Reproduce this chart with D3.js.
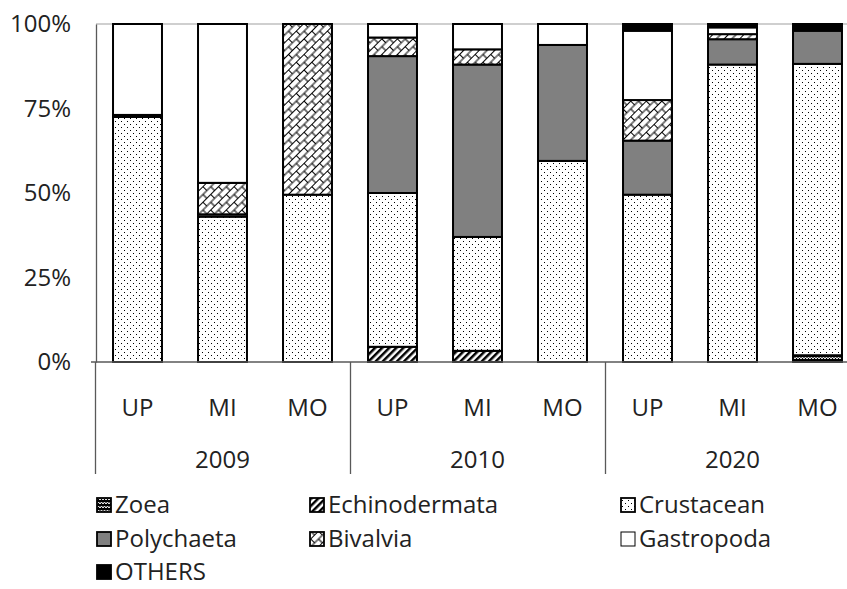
<!DOCTYPE html>
<html>
<head>
<meta charset="utf-8">
<script src="https://cdn.jsdelivr.net/npm/d3@7"></script>
<style>
  body { margin: 0; background: #fff; }
  text { font-family: 'Open Sans', sans-serif; fill: #222; }
</style>
</head>
<body>
<script>
const width = 847;
const height = 589;

// categories
const years = ['2009', '2010', '2020'];
const sites = ['UP', 'MI', 'MO'];

// series values (% of total), one value per year/site bar
const zoea = [0, 0, 0, 0, 0, 0, 0, 0, 2];
const echinodermata = [0, 0, 0, 4.5, 3.3, 0, 0, 0, 0];
const crustacean = [72.5, 43, 49.5, 45.5, 33.7, 59.5, 49.5, 88, 86.2];
const polychaeta = [0.6, 0.7, 0, 40.5, 51, 34.3, 16, 7.5, 9.8];
const bivalvia = [0, 9.3, 50.5, 5.5, 4.5, 0, 12, 1.5, 0];
const gastropoda = [26.9, 47, 0, 4, 7.5, 6.2, 20.5, 2, 0];
const others = [0, 0, 0, 0, 0, 0, 2, 1, 2];

const yTicks = [0, 0.25, 0.5, 0.75, 1];

const seriesNames = ['Zoea', 'Echinodermata', 'Crustacean', 'Polychaeta', 'Bivalvia', 'Gastropoda', 'OTHERS'];
const seriesVals = [zoea, echinodermata, crustacean, polychaeta, bivalvia, gastropoda, others];
const fills = ['url(#p-zoea)', 'url(#p-echi)', 'url(#p-crus)', '#808080', 'url(#p-biv)', '#fff', '#000'];

const fontSize = '24px';

// one row per bar for d3.stack
const bars = [];
years.forEach((yr, i) => {
  sites.forEach((s, j) => {
    const row = { key: `${yr}-${s}`, year: yr, site: s };
    seriesNames.forEach((n, k) => { row[n] = seriesVals[k][i * 3 + j] / 100; });
    bars.push(row);
  });
});

const stacked = d3.stack().keys(seriesNames)(bars);

const svg = d3
  .select('body')
  .append('svg')
  .attr('width', width)
  .attr('height', height);

// ---- fill patterns
const defs = svg.append('defs');

const crus = defs.append('pattern')
  .attr('id', 'p-crus').attr('patternUnits', 'userSpaceOnUse')
  .attr('width', 6).attr('height', 6);
crus.append('rect').attr('width', 6).attr('height', 6).attr('fill', '#fff');
crus.append('rect').attr('x', 1).attr('y', 1).attr('width', 1).attr('height', 1).attr('fill', '#000');
crus.append('rect').attr('x', 4).attr('y', 4).attr('width', 1).attr('height', 1).attr('fill', '#000');

const echi = defs.append('pattern')
  .attr('id', 'p-echi').attr('patternUnits', 'userSpaceOnUse')
  .attr('width', 5).attr('height', 5)
  .attr('patternTransform', 'rotate(45)');
echi.append('rect').attr('width', 5).attr('height', 5).attr('fill', '#fff');
echi.append('rect').attr('width', 2.5).attr('height', 5).attr('fill', '#000');

const zo = defs.append('pattern')
  .attr('id', 'p-zoea').attr('patternUnits', 'userSpaceOnUse')
  .attr('width', 6).attr('height', 4);
zo.append('rect').attr('width', 6).attr('height', 4).attr('fill', '#000');
zo.append('path').attr('d', 'M0,3 L1.5,1 L3,3 L4.5,1 L6,3').attr('stroke', '#fff').attr('stroke-width', 1).attr('fill', 'none');

// shingle: brick tile rotated
const biv = defs.append('pattern')
  .attr('id', 'p-biv').attr('patternUnits', 'userSpaceOnUse')
  .attr('width', 11).attr('height', 11)
  .attr('patternTransform', 'rotate(-45)');
biv.append('rect').attr('width', 11).attr('height', 11).attr('fill', '#fff');
biv.append('path')
  .attr('d', 'M0,0.5 H11 M0,6 H11 M0.5,0 V6 M6,6 V11')
  .attr('stroke', '#000').attr('stroke-width', 1.1).attr('fill', 'none');

// ---- scales
const x = d3.scaleBand()
  .domain(bars.map(d => d.key))
  .range([95, 860])
  .paddingInner(0.424)
  .paddingOuter(0.212);

const y = d3.scaleLinear().domain([0, 1]).range([362, 24]);

// top gridline (100%)
svg.append('line')
  .attr('x1', 96).attr('x2', width)
  .attr('y1', y(1)).attr('y2', y(1))
  .attr('stroke', '#bfbfbf').attr('stroke-width', 1.3);

// ---- bars
svg.append('g')
  .selectAll('g')
  .data(stacked)
  .join('g')
  .attr('fill', (d, i) => fills[i])
  .selectAll('rect')
  .data(d => d.filter(p => p[1] - p[0] > 0))
  .join('rect')
  .attr('x', d => x(d.data.key))
  .attr('width', x.bandwidth())
  .attr('y', d => y(d[1]))
  .attr('height', d => y(d[0]) - y(d[1]))
  .attr('stroke', '#000')
  .attr('stroke-width', 2);

// ---- y axis
const yAxis = svg.append('g')
  .attr('transform', 'translate(96,0)')
  .call(d3.axisLeft(y).tickValues(yTicks).tickFormat(d3.format('.0%')).tickSize(0).tickPadding(25));
yAxis.select('.domain').attr('stroke', '#595959').attr('stroke-width', 1.3);
yAxis.selectAll('text').style('font-size', fontSize).attr('fill', '#222');

// ---- category axis (two levels)
svg.append('line')
  .attr('x1', 91).attr('x2', width)
  .attr('y1', y(0)).attr('y2', y(0))
  .attr('stroke', '#595959').attr('stroke-width', 1.3);

const groupW = x.step() * 3;
const groupEdges = d3.range(years.length + 1).map(i => 95 + i * groupW);

svg.append('g')
  .selectAll('line')
  .data(groupEdges)
  .join('line')
  .attr('x1', d => d + 0.5).attr('x2', d => d + 0.5)
  .attr('y1', y(0)).attr('y2', 474)
  .attr('stroke', '#595959').attr('stroke-width', 1.3);

svg.append('g')
  .selectAll('text')
  .data(bars)
  .join('text')
  .attr('x', d => x(d.key) + x.bandwidth() / 2)
  .attr('y', 408)
  .attr('dy', '0.35em')
  .attr('text-anchor', 'middle')
  .style('font-size', fontSize)
  .text(d => d.site);

svg.append('g')
  .selectAll('text')
  .data(years)
  .join('text')
  .attr('x', (d, i) => 95 + (i + 0.5) * groupW)
  .attr('y', 460)
  .attr('dy', '0.35em')
  .attr('text-anchor', 'middle')
  .style('font-size', fontSize)
  .text(d => d);

// ---- legend
const legCols = [97, 310, 621];
const legRows = [505, 539, 572];

const leg = svg.append('g')
  .selectAll('g')
  .data(seriesNames)
  .join('g')
  .attr('transform', (d, i) => `translate(${legCols[i % 3]},${legRows[Math.floor(i / 3)]})`);

leg.append('rect')
  .attr('x', 0).attr('y', -7)
  .attr('width', 14).attr('height', 14)
  .attr('fill', (d, i) => fills[i])
  .attr('stroke', '#000')
  .attr('stroke-width', (d, i) => (i === 5 ? 1 : 1.8));

leg.append('text')
  .attr('x', 18)
  .attr('dy', '0.35em')
  .style('font-size', fontSize)
  .text(d => d);
</script>
</body>
</html>
